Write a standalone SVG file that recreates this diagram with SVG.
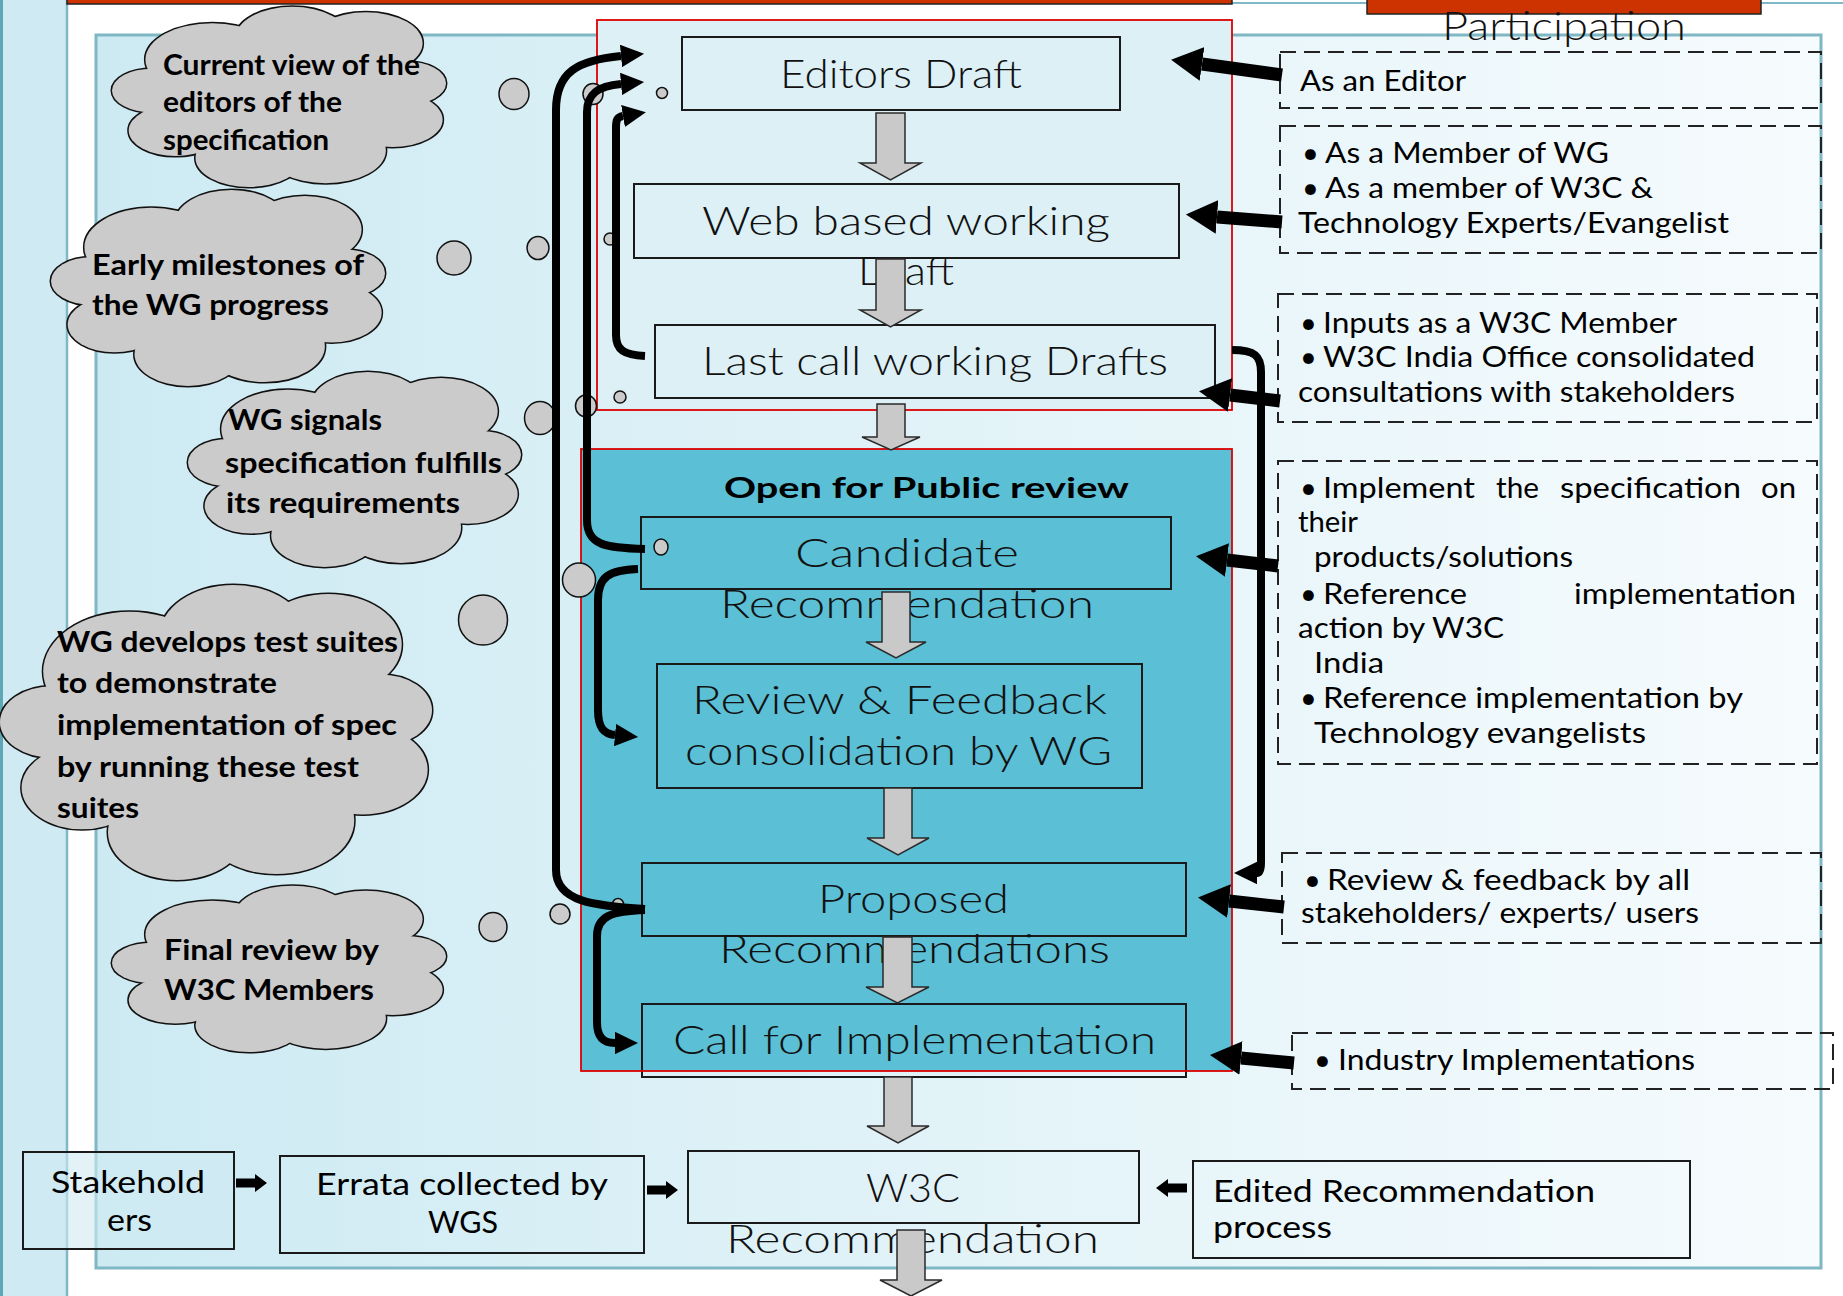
<svg xmlns="http://www.w3.org/2000/svg" xmlns:xlink="http://www.w3.org/1999/xlink" width="1843" height="1296" viewBox="0 0 1843 1296">
<style>
.mt{font-family:Lato,"Liberation Sans",sans-serif;font-weight:300;font-size:40px;fill:#111}
.rt{font-family:Lato,"Liberation Sans",sans-serif;font-weight:400;font-size:29px;fill:#000}
.ct{font-family:Lato,"Liberation Sans",sans-serif;font-weight:700;font-size:29px;fill:#000}
.bt{font-family:Lato,"Liberation Sans",sans-serif;font-weight:400;font-size:31px;fill:#000}
.box{stroke:#1a1a1a;stroke-width:2}
.dash{fill:none;stroke:#222;stroke-width:2;stroke-dasharray:16 8}
.garrow{fill:#c9c9c9;stroke:#2a2a2a;stroke-width:1.5;stroke-linejoin:miter}
.bub{fill:#cbcbcb;stroke:#111;stroke-width:1.5}
.conn{fill:none;stroke:#000;stroke-width:8;marker-end:url(#hd)}
.thick{fill:none;stroke:#000;stroke-width:13;marker-end:url(#hb)}
.cst{fill:#cbcbcb;stroke:#111;stroke-width:3}
.cfl{fill:#cbcbcb;stroke:none}
</style>
<defs>
<linearGradient id="pg" x1="0" y1="0" x2="1" y2="0">
<stop offset="0" stop-color="#cdeaf3"/>
<stop offset="0.5" stop-color="#e2f3f8"/>
<stop offset="1" stop-color="#f6fbfd"/>
</linearGradient>
<marker id="hd" viewBox="0 0 10 10" refX="0" refY="5" markerWidth="2.9" markerHeight="2.8" preserveAspectRatio="none" orient="auto" markerUnits="strokeWidth">
<path d="M0,0 L10,5 L0,10 z" fill="#000"/>
</marker>
<marker id="hb" viewBox="0 0 10 10" refX="0" refY="5" markerWidth="2.4" markerHeight="2.6" preserveAspectRatio="none" orient="auto" markerUnits="strokeWidth">
<path d="M0,0 L10,5 L0,10 z" fill="#000"/>
</marker>
<g id="cb">
<circle cx="12" cy="47" r="12" vector-effect="non-scaling-stroke"/>
<circle cx="30" cy="30" r="20" vector-effect="non-scaling-stroke"/>
<circle cx="54" cy="18" r="17" vector-effect="non-scaling-stroke"/>
<circle cx="76" cy="21" r="17" vector-effect="non-scaling-stroke"/>
<circle cx="88" cy="43" r="12" vector-effect="non-scaling-stroke"/>
<circle cx="84" cy="63" r="15" vector-effect="non-scaling-stroke"/>
<circle cx="64" cy="80" r="18" vector-effect="non-scaling-stroke"/>
<circle cx="41" cy="84" r="16" vector-effect="non-scaling-stroke"/>
<circle cx="19" cy="69" r="14" vector-effect="non-scaling-stroke"/>
<ellipse cx="52" cy="52" rx="34" ry="30" vector-effect="non-scaling-stroke"/>
</g>
<symbol id="cloud" viewBox="0 0 100 100" preserveAspectRatio="none" overflow="visible">
<use href="#cb" class="cst"/>
<use href="#cb" class="cfl"/>
</symbol>
<path id="sa" d="M0,-4.5 L19,-4.5 L19,-9 L31,0 L19,9 L19,4.5 L0,4.5 z" fill="#000"/>
</defs>

<!-- background -->
<rect x="0" y="0" width="1843" height="1296" fill="#fff"/>
<rect x="0" y="0" width="67" height="1296" fill="#cfeaf2"/>
<line x1="1.5" y1="0" x2="1.5" y2="1296" stroke="#5ea7b4" stroke-width="3"/>
<line x1="67" y1="0" x2="67" y2="1296" stroke="#7fb9c5" stroke-width="2.5"/>
<line x1="67" y1="3" x2="1843" y2="3" stroke="#7fb9c5" stroke-width="2"/>
<rect x="96" y="35" width="1725" height="1233" fill="url(#pg)" stroke="#7fb8c4" stroke-width="3"/>
<rect x="67" y="-2" width="1165" height="6" fill="#cc3300" stroke="#222" stroke-width="1.5"/>
<rect x="1367" y="-2" width="394" height="16" fill="#cc3300" stroke="#222" stroke-width="1.5"/>
<text class="mt" x="1442" y="40" font-size="38" textLength="244" lengthAdjust="spacingAndGlyphs">Participation</text>

<!-- groups -->
<g id="draft-group"><rect x="597" y="20" width="635" height="390" fill="#dcf0f6"/></g>
<g id="public-review-group"><rect x="581" y="449" width="651" height="622" fill="#5bbfd5"/>
<text class="ct" x="724" y="498" font-size="34" textLength="405" lengthAdjust="spacingAndGlyphs">Open for Public review</text></g>

<!-- process nodes -->
<g id="editors-draft"><rect class="box" x="682" y="37" width="438" height="73" fill="none"/>
<text class="mt" x="780" y="88" textLength="242" lengthAdjust="spacingAndGlyphs">Editors Draft</text></g>
<g id="web-draft"><rect class="box" x="634" y="184" width="545" height="74" fill="none"/>
<text class="mt" x="702" y="235" textLength="408" lengthAdjust="spacingAndGlyphs">Web based working</text>
<text class="mt" x="858" y="285" textLength="96" lengthAdjust="spacingAndGlyphs">Draft</text></g>
<g id="last-call"><rect class="box" x="655" y="325" width="560" height="73" fill="none"/>
<text class="mt" x="702" y="375" textLength="466" lengthAdjust="spacingAndGlyphs">Last call working Drafts</text></g>
<g id="candidate"><rect class="box" x="641" y="517" width="530" height="72" fill="none"/>
<text class="mt" x="795" y="567" textLength="224" lengthAdjust="spacingAndGlyphs">Candidate</text>
<text class="mt" x="720" y="618" textLength="374" lengthAdjust="spacingAndGlyphs">Recommendation</text></g>
<g id="review-feedback"><rect class="box" x="657" y="664" width="485" height="124" fill="none"/>
<text class="mt" x="692" y="714" textLength="415" lengthAdjust="spacingAndGlyphs">Review &amp; Feedback</text>
<text class="mt" x="685" y="765" textLength="427" lengthAdjust="spacingAndGlyphs">consolidation by WG</text></g>
<g id="proposed"><rect class="box" x="642" y="863" width="544" height="73" fill="none"/>
<text class="mt" x="818" y="913" textLength="191" lengthAdjust="spacingAndGlyphs">Proposed</text>
<text class="mt" x="719" y="963" textLength="391" lengthAdjust="spacingAndGlyphs">Recommendations</text></g>
<g id="call-impl"><rect class="box" x="642" y="1004" width="544" height="73" fill="none"/>
<text class="mt" x="673" y="1054" textLength="483" lengthAdjust="spacingAndGlyphs">Call for Implementation</text></g>
<g id="w3c-rec"><rect class="box" x="688" y="1151" width="451" height="72" fill="none"/>
<text class="mt" x="866" y="1202" textLength="94" lengthAdjust="spacingAndGlyphs">W3C</text>
<text class="mt" x="726" y="1253" textLength="373" lengthAdjust="spacingAndGlyphs">Recommendation</text></g>

<!-- red group borders -->
<rect x="597" y="20" width="635" height="390" fill="none" stroke="#dd0000" stroke-width="1.8"/>
<rect x="581" y="449" width="651" height="622" fill="none" stroke="#dd0000" stroke-width="1.8"/>

<!-- bottom row nodes -->
<g id="stakeholders"><rect class="box" x="23" y="1152" width="211" height="97" fill="#cfeaf2" fill-opacity="0.6"/>
<text class="bt" x="51" y="1193" textLength="154" lengthAdjust="spacingAndGlyphs">Stakehold</text>
<text class="bt" x="107" y="1231" textLength="45" lengthAdjust="spacingAndGlyphs">ers</text></g>
<g id="errata"><rect class="box" x="280" y="1156" width="364" height="97" fill="none"/>
<text class="bt" x="316" y="1195" textLength="292" lengthAdjust="spacingAndGlyphs">Errata collected by</text>
<text class="bt" x="428" y="1233" textLength="70" lengthAdjust="spacingAndGlyphs">WGS</text></g>
<g id="edited-rec"><rect class="box" x="1193" y="1161" width="497" height="97" fill="none"/>
<text class="bt" x="1213" y="1202" textLength="382" lengthAdjust="spacingAndGlyphs">Edited Recommendation</text>
<text class="bt" x="1213" y="1238" textLength="119" lengthAdjust="spacingAndGlyphs">process</text></g>

<!-- participation boxes -->
<g id="p-editor"><rect class="dash" x="1280" y="52" width="541" height="56"/>
<text class="rt" x="1300" y="91" textLength="166" lengthAdjust="spacingAndGlyphs">As an Editor</text></g>
<g id="p-member"><rect class="dash" x="1280" y="126" width="541" height="127"/>
<text class="rt" x="1302" y="163">•</text><text class="rt" x="1325" y="163" textLength="284" lengthAdjust="spacingAndGlyphs">As a Member of WG</text>
<text class="rt" x="1302" y="198">•</text><text class="rt" x="1325" y="198" textLength="328" lengthAdjust="spacingAndGlyphs">As a member of W3C &amp;</text>
<text class="rt" x="1298" y="233" textLength="431" lengthAdjust="spacingAndGlyphs">Technology Experts/Evangelist</text></g>
<g id="p-inputs"><rect class="dash" x="1278" y="294" width="539" height="128"/>
<text class="rt" x="1300" y="333">•</text><text class="rt" x="1323" y="333" textLength="354" lengthAdjust="spacingAndGlyphs">Inputs as a W3C Member</text>
<text class="rt" x="1300" y="367">•</text><text class="rt" x="1323" y="367" textLength="432" lengthAdjust="spacingAndGlyphs">W3C India Office consolidated</text>
<text class="rt" x="1298" y="402" textLength="437" lengthAdjust="spacingAndGlyphs">consultations with stakeholders</text></g>
<g id="p-implement"><rect class="dash" x="1278" y="461" width="539" height="303"/>
<text class="rt" x="1300" y="498">•</text>
<text class="rt" x="1323" y="498" textLength="152" lengthAdjust="spacingAndGlyphs">Implement</text>
<text class="rt" x="1496" y="498" textLength="43" lengthAdjust="spacingAndGlyphs">the</text>
<text class="rt" x="1560" y="498" textLength="181" lengthAdjust="spacingAndGlyphs">specification</text>
<text class="rt" x="1761" y="498" textLength="35" lengthAdjust="spacingAndGlyphs">on</text>
<text class="rt" x="1298" y="532" textLength="60" lengthAdjust="spacingAndGlyphs">their</text>
<text class="rt" x="1314" y="567" textLength="259" lengthAdjust="spacingAndGlyphs">products/solutions</text>
<text class="rt" x="1300" y="604">•</text>
<text class="rt" x="1323" y="604" textLength="144" lengthAdjust="spacingAndGlyphs">Reference</text>
<text class="rt" x="1574" y="604" textLength="222" lengthAdjust="spacingAndGlyphs">implementation</text>
<text class="rt" x="1298" y="638" textLength="206" lengthAdjust="spacingAndGlyphs">action by W3C</text>
<text class="rt" x="1314" y="673" textLength="70" lengthAdjust="spacingAndGlyphs">India</text>
<text class="rt" x="1300" y="708">•</text>
<text class="rt" x="1323" y="708" textLength="420" lengthAdjust="spacingAndGlyphs">Reference implementation by</text>
<text class="rt" x="1314" y="743" textLength="332" lengthAdjust="spacingAndGlyphs">Technology evangelists</text></g>
<g id="p-review"><rect class="dash" x="1282" y="853" width="539" height="90"/>
<text class="rt" x="1304" y="890">•</text><text class="rt" x="1327" y="890" textLength="363" lengthAdjust="spacingAndGlyphs">Review &amp; feedback by all</text>
<text class="rt" x="1301" y="923" textLength="398" lengthAdjust="spacingAndGlyphs">stakeholders/ experts/ users</text></g>
<g id="p-industry"><rect class="dash" x="1292" y="1033" width="541" height="56"/>
<text class="rt" x="1314" y="1070">•</text><text class="rt" x="1338" y="1070" textLength="357" lengthAdjust="spacingAndGlyphs">Industry Implementations</text></g>

<!-- clouds -->
<g id="cloud-current"><use href="#cloud" x="112" y="5" width="334" height="182"/>
<text class="ct" x="163" y="75" textLength="257" lengthAdjust="spacingAndGlyphs">Current view of the</text>
<text class="ct" x="163" y="112" textLength="179" lengthAdjust="spacingAndGlyphs">editors of the</text>
<text class="ct" x="163" y="150" textLength="166" lengthAdjust="spacingAndGlyphs">specification</text></g>
<g id="cloud-early"><use href="#cloud" x="51" y="188" width="334" height="198"/>
<text class="ct" x="92" y="275" textLength="272" lengthAdjust="spacingAndGlyphs">Early milestones of</text>
<text class="ct" x="92" y="315" textLength="237" lengthAdjust="spacingAndGlyphs">the WG progress</text></g>
<g id="cloud-signals"><use href="#cloud" x="188" y="370" width="333" height="197"/>
<text class="ct" x="228" y="430" textLength="154" lengthAdjust="spacingAndGlyphs">WG signals</text>
<text class="ct" x="225" y="473" textLength="277" lengthAdjust="spacingAndGlyphs">specification fulfills</text>
<text class="ct" x="226" y="513" textLength="234" lengthAdjust="spacingAndGlyphs">its requirements</text></g>
<g id="cloud-tests"><use href="#cloud" x="0" y="582" width="432" height="298"/>
<text class="ct" x="57" y="652" textLength="341" lengthAdjust="spacingAndGlyphs">WG develops test suites</text>
<text class="ct" x="57" y="693" textLength="220" lengthAdjust="spacingAndGlyphs">to demonstrate</text>
<text class="ct" x="57" y="735" textLength="340" lengthAdjust="spacingAndGlyphs">implementation of spec</text>
<text class="ct" x="57" y="777" textLength="302" lengthAdjust="spacingAndGlyphs">by running these test</text>
<text class="ct" x="57" y="818" textLength="82" lengthAdjust="spacingAndGlyphs">suites</text></g>
<g id="cloud-final"><use href="#cloud" x="112" y="884" width="334" height="168"/>
<text class="ct" x="164" y="960" textLength="215" lengthAdjust="spacingAndGlyphs">Final review by</text>
<text class="ct" x="164" y="1000" textLength="210" lengthAdjust="spacingAndGlyphs">W3C Members</text></g>

<!-- bubbles -->
<g id="bubbles">
<ellipse class="bub" cx="514" cy="94" rx="15" ry="15.5"/>
<ellipse class="bub" cx="593" cy="94" rx="10" ry="10.5"/>
<circle class="bub" cx="662" cy="93" r="5.5"/>
<ellipse class="bub" cx="454" cy="258" rx="17" ry="17"/>
<ellipse class="bub" cx="538" cy="248" rx="11" ry="11.5"/>
<circle class="bub" cx="610" cy="239" r="6"/>
<circle class="bub" cx="620" cy="397" r="6"/>
<ellipse class="bub" cx="586" cy="406" rx="10.5" ry="11"/>
<ellipse class="bub" cx="540" cy="418" rx="15.5" ry="16.5"/>
<ellipse class="bub" cx="579" cy="580" rx="16.5" ry="17"/>
<ellipse class="bub" cx="661" cy="547" rx="7" ry="8"/>
<ellipse class="bub" cx="483" cy="620" rx="24.5" ry="25"/>
<ellipse class="bub" cx="493" cy="927" rx="14" ry="14.5"/>
<circle class="bub" cx="560" cy="914" r="10"/>
<circle class="bub" cx="618" cy="904" r="5.5"/>
</g>

<!-- connectors -->
<g id="connectors">
<g id="flow-arrows">
<path class="garrow" d="M876,113 H905 V163 H921 L890.5,180 L860,163 H876 Z"/>
<path class="garrow" d="M876,259 H905 V310 H921 L890.5,327 L860,310 H876 Z"/>
<path class="garrow" d="M877,404 H905 V437 H920 L891,450 L862,437 H877 Z"/>
<path class="garrow" d="M882,592 H910 V642 H926 L896,658 L866,642 H882 Z"/>
<path class="garrow" d="M884,788 H912 V838 H929 L898,855 L867,838 H884 Z"/>
<path class="garrow" d="M883,937 H912 V987 H929 L897.5,1003 L866,987 H883 Z"/>
<path class="garrow" d="M884,1077 H912 V1126 H929 L898,1143 L867,1126 H884 Z"/>
<path class="garrow" d="M897,1230 H925 V1280 H942 L911,1296 L880,1280 H897 Z"/>
</g>
<g id="feedback-loops">
<path class="conn" d="M645,909 C595,906 556,902 556,870 L556,110 C556,72 578,60 621,56"/>
<path class="conn" d="M645,549 C605,548 587,545 587,520 L587,112 C587,94 598,86 621,84"/>
<path class="conn" d="M645,356 C624,355 616,350 616,335 L616,128 C616,120 617,117 623,116"/>
<path class="conn" d="M638,569 C610,570 598,576 598,600 L598,710 C598,728 604,734 615,735"/>
<path class="conn" d="M645,910 C612,911 597,916 597,936 L597,1022 C597,1038 604,1043 615,1043"/>
<path class="conn" d="M1232,350 C1255,350 1261,356 1261,372 L1261,862 Q1261,873 1257,873"/>
</g>
<g id="participation-arrows">
<line class="thick" x1="1282" y1="75" x2="1202" y2="64"/>
<line class="thick" x1="1282" y1="222" x2="1217" y2="217"/>
<line class="thick" x1="1280" y1="401" x2="1230" y2="395"/>
<line class="thick" x1="1278" y1="566" x2="1227" y2="560"/>
<line class="thick" x1="1284" y1="907" x2="1229" y2="901"/>
<line class="thick" x1="1294" y1="1063" x2="1241" y2="1058"/>
</g>
<g id="bottom-arrows">
<use href="#sa" x="236" y="1183"/>
<use href="#sa" x="647" y="1190"/>
<use href="#sa" transform="translate(1187,1188) scale(-1,1)"/>
</g>
</g>
</svg>
